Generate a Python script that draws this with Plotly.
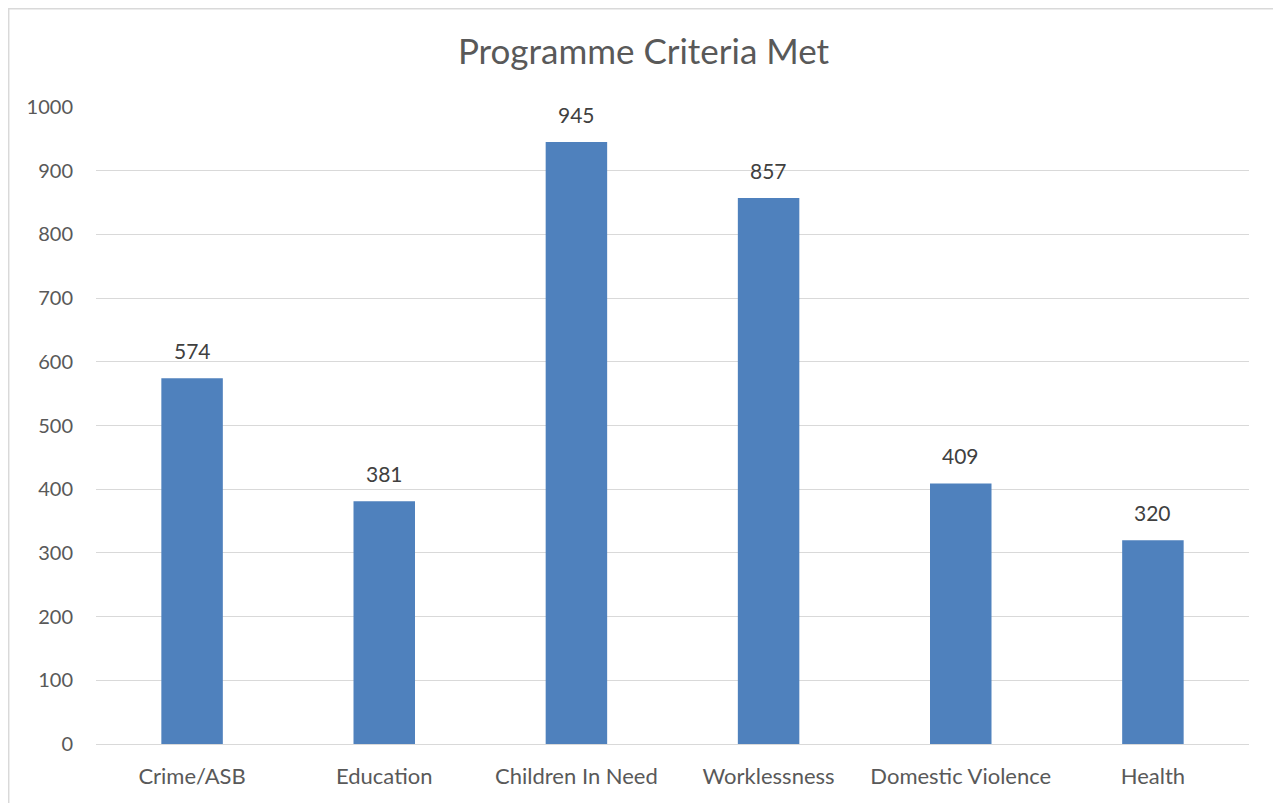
import plotly.graph_objects as go

categories = ["Crime/ASB", "Education", "Children In Need", "Worklessness", "Domestic Violence", "Health"]
values = [574, 381, 945, 857, 409, 320]
y_ticks = [0, 100, 200, 300, 400, 500, 600, 700, 800, 900, 1000]

# page body has an 8px offset; figure sized to fill the window from there
OFF = 8
W, H = 1281 - OFF, 803 - OFF
L, R, T, B = 96 - OFF, 32, 107 - OFF, 59
pw, ph = W - L - R, H - T - B

fig = go.Figure(go.Bar(
    x=categories, y=values, marker_color="#4f81bd", marker_line_width=0,
))

for c, v in zip(categories, values):
    fig.add_annotation(x=c, y=v, text=str(v), showarrow=False, yanchor="bottom", yshift=13,
                       font=dict(family="Lato", size=21, color="#404040"))

fig.update_layout(
    width=W, height=H, margin=dict(l=L, r=R, t=T, b=B),
    plot_bgcolor="white", paper_bgcolor="white",
    bargap=0.68,
    title=dict(text="Programme Criteria Met", x=(643.5 - OFF) / W, xanchor="center",
               y=1 - (52 - OFF) / H, yanchor="middle",
               font=dict(family="Lato", size=35, color="#595959")),
    showlegend=False,
    font=dict(family="Lato", color="#595959"),
)
fig.update_xaxes(tickfont=dict(size=22, color="#595959"), showline=False, showgrid=False,
                 ticks="outside", ticklen=13, tickcolor="rgba(0,0,0,0)")
fig.update_yaxes(range=[0, 1000], tickvals=y_ticks, tickfont=dict(size=20, color="#595959"),
                 gridcolor="#d9d9d9", gridwidth=1.3, zeroline=True, zerolinecolor="#d9d9d9", zerolinewidth=1.3,
                 showline=False, ticks="outside", ticklen=18, tickcolor="rgba(0,0,0,0)")

fig.add_shape(type="rect", xref="paper", yref="paper",
              x0=(0.7 - L) / pw, x1=(1279 - OFF - L) / pw,
              y0=1 - (H + 20 - T) / ph, y1=1 + (T - 0.7) / ph,
              line=dict(color="#d9d9d9", width=1.5), fillcolor="rgba(0,0,0,0)", layer="below")

fig.write_html("out.html")
